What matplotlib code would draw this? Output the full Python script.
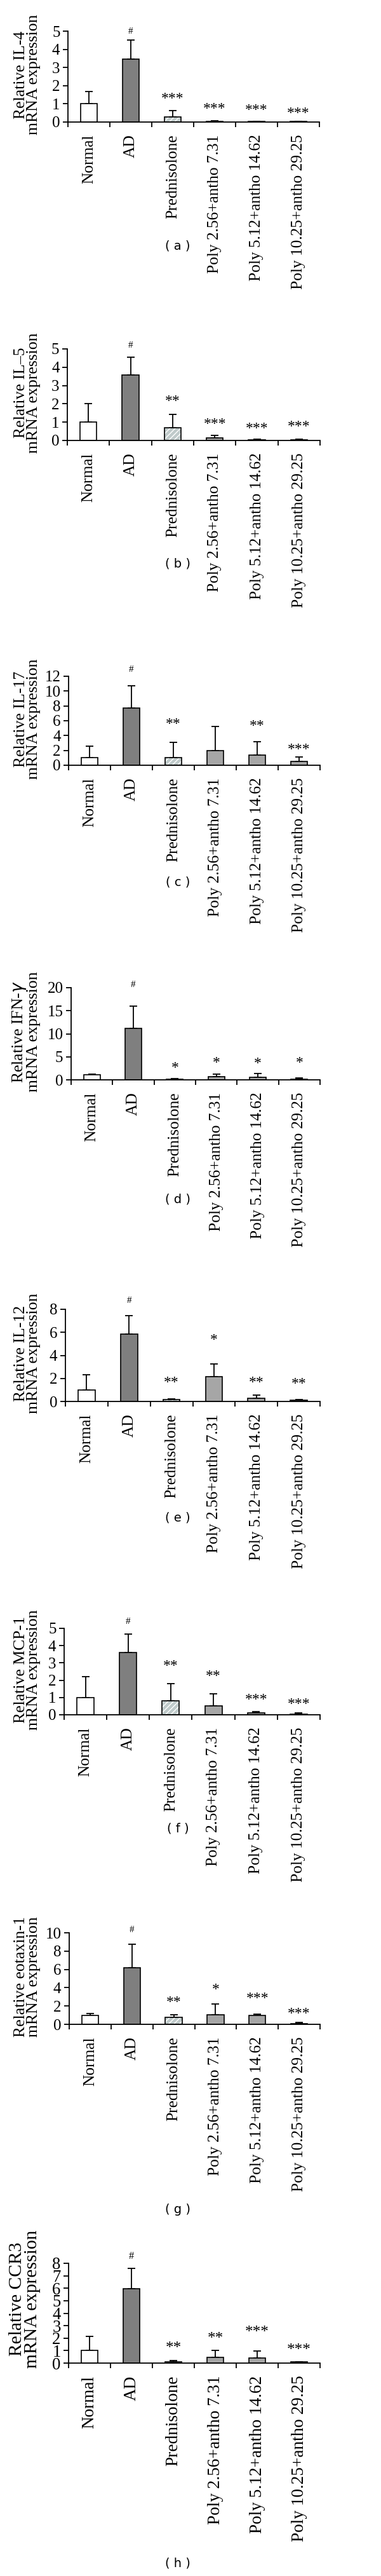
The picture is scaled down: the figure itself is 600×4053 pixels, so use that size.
import matplotlib
matplotlib.use("Agg")
import matplotlib.pyplot as plt
import numpy as np

groups = ["Normal", "AD", "Prednisolone", "Poly 2.56+antho 7.31",
          "Poly 5.12+antho 14.62", "Poly 10.25+antho 29.25"]

# (a) IL-4
il4_mean = [1.0, 3.45, 0.28, 0.05, 0.04, 0.04]
il4_err = [0.68, 1.05, 0.35, 0.03, 0.01, 0.01]
il4_marks = ["", "#", "***", "***", "***", "***"]
il4_mark_y = [0, 4.97, 1.29, 0.71, 0.65, 0.48]

# (b) IL-5
il5_mean = [1.0, 3.56, 0.71, 0.14, 0.05, 0.05]
il5_err = [1.0, 1.0, 0.70, 0.15, 0.03, 0.03]
il5_marks = ["", "#", "**", "***", "***", "***"]
il5_mark_y = [0, 5.2, 2.14, 0.87, 0.64, 0.75]

# (c) IL-17
il17_mean = [1.03, 7.69, 1.06, 1.97, 1.4, 0.54]
il17_err = [1.5, 3.0, 2.0, 3.3, 1.74, 0.57]
il17_marks = ["", "#", "**", "", "**", "***"]
il17_mark_y = [0, 12.9, 5.5, 0, 5.26, 2.06]

# (d) IFN-gamma
ifng_mean = [1.06, 11.2, 0.18, 0.74, 0.6, 0.18]
ifng_err = [0.23, 4.74, 0.1, 0.46, 0.74, 0.19]
ifng_marks = ["", "#", "*", "*", "*", "*"]
ifng_mark_y = [0, 20.6, 2.58, 3.7, 3.5, 3.6]

# (e) IL-12
il12_mean = [1.0, 5.84, 0.18, 2.16, 0.26, 0.09]
il12_err = [1.29, 1.59, 0.04, 1.07, 0.3, 0.08]
il12_marks = ["", "#", "**", "*", "**", "**"]
il12_mark_y = [0, 8.74, 1.64, 5.33, 1.64, 1.49]

# (f) MCP-1
mcp1_mean = [1.0, 3.59, 0.81, 0.53, 0.1, 0.05]
mcp1_err = [1.22, 1.07, 0.98, 0.7, 0.1, 0.05]
mcp1_marks = ["", "#", "**", "**", "***", "***"]
mcp1_mark_y = [0, 5.37, 2.8, 2.21, 0.88, 0.6]

# (g) eotaxin-1
eot_mean = [0.98, 6.16, 0.77, 1.02, 1.0, 0.09]
eot_err = [0.23, 2.56, 0.25, 1.17, 0.12, 0.12]
eot_marks = ["", "#", "**", "*", "***", "***"]
eot_mark_y = [0, 10.3, 2.42, 3.81, 2.84, 1.14]

# (h) CCR3
ccr3_mean = [1.02, 5.95, 0.08, 0.46, 0.41, 0.08]
ccr3_err = [1.1, 1.64, 0.1, 0.54, 0.56, 0.04]
ccr3_marks = ["", "#", "**", "**", "***", "***"]
ccr3_mark_y = [0, 8.54, 1.17, 1.93, 2.44, 1.0]

panels = [
  ("Relative IL-4\nmRNA expression", il4_mean, il4_err, il4_marks, il4_mark_y, np.arange(0, 6, 1), "a"),
  ("Relative IL\u20135\nmRNA expression", il5_mean, il5_err, il5_marks, il5_mark_y, np.arange(0, 6, 1), "b"),
  ("Relative IL-17\nmRNA expression", il17_mean, il17_err, il17_marks, il17_mark_y, np.arange(0, 13, 2), "c"),
  ("Relative IFN-$\\gamma$\nmRNA expression", ifng_mean, ifng_err, ifng_marks, ifng_mark_y, np.arange(0, 21, 5), "d"),
  ("Relative IL-12\nmRNA expression", il12_mean, il12_err, il12_marks, il12_mark_y, np.arange(0, 9, 2), "e"),
  ("Relative MCP-1\nmRNA expression", mcp1_mean, mcp1_err, mcp1_marks, mcp1_mark_y, np.arange(0, 6, 1), "f"),
  ("Relative eotaxin-1\nmRNA expression", eot_mean, eot_err, eot_marks, eot_mark_y, np.arange(0, 11, 2), "g"),
  ("Relative CCR3\nmRNA expression", ccr3_mean, ccr3_err, ccr3_marks, ccr3_mark_y, np.arange(0, 9, 1), "h"),
]

# pixel boxes (left, top, right, bottom) and caption y for each panel
W, H = 600, 4053
frames = [
  (107, 49, 503, 192, 387),
  (106, 549, 504, 693, 887),
  (108, 1064, 504, 1204, 1388),
  (112, 1554, 504, 1699, 1887),
  (103, 2060, 504, 2205, 2388),
  (101, 2562, 504, 2698, 2877),
  (109, 3041, 504, 3185, 3477),
  (108, 3561, 504, 3718, 4033),
]
font_scale = [1, 1, 1, 1, 1, 1, 1, 1.07]
ylabel_scale = [1, 1, 1, 1, 1, 1, 1, 1.15]
label_y = [0.52, 0.52, 0.52, 0.52, 0.52, 0.52, 0.52, 0.64]

bar_colors = ["white", "#7f7f7f", "#bfcaca", "#a6a6a6", "#a6a6a6", "#a6a6a6"]
serif = "Liberation Serif"
plt.rcParams["font.family"] = serif

fig = plt.figure(figsize=(W / 100, H / 100), dpi=100)

for (ylabel, mean, err, marks, mark_y, ticks, tag), frame, fs, ls, ly in zip(
    panels, frames, font_scale, ylabel_scale, label_y):
  left, top, right, bottom, cap_y = frame
  ax = fig.add_axes([left / W, 1 - bottom / H, (right - left) / W, (bottom - top) / H])
  x = np.arange(len(groups))
  mean = np.array(mean)
  err = np.array(err)

  ax.errorbar(x, mean, yerr=[np.zeros_like(err), err], fmt="none", ecolor="black",
              elinewidth=1.3, capsize=4.5, capthick=1.3, zorder=1)
  for i in range(len(groups)):
    if i == 2:
      ax.bar(x[i], mean[i], width=0.4, color=bar_colors[i], edgecolor="white",
             hatch="////", linewidth=0, zorder=2)
      ax.bar(x[i], mean[i], width=0.4, fill=False, edgecolor="black", linewidth=1.2, zorder=3)
    else:
      ax.bar(x[i], mean[i], width=0.4, color=bar_colors[i], edgecolor="black",
             linewidth=1.2, zorder=2)

  for i, m in enumerate(marks):
    if not m:
      continue
    size = 11 if m == "#" else 17
    ax.text(x[i], mark_y[i], m, ha="center", va="center", fontsize=size * fs)

  ax.set_xlim(-0.5, len(groups) - 0.5)
  ax.set_ylim(0, ticks[-1])
  ax.set_yticks(ticks)
  ax.set_yticklabels([str(t) for t in ticks])
  ax.set_xticks(x)
  ax.set_xticklabels(groups, rotation=90, va="top", ha="center")
  ax.set_xticks(np.arange(-0.5, len(groups), 1), minor=True)
  ax.tick_params(axis="x", which="major", length=0, pad=14, labelsize=18.3 * fs)
  ax.tick_params(axis="x", which="minor", length=6, width=1.3, direction="out")
  ax.tick_params(axis="y", length=6, width=1.3, direction="out", pad=3, labelsize=18 * fs)

  for side in ("top", "right"):
    ax.spines[side].set_visible(False)
  for side in ("left", "bottom"):
    ax.spines[side].set_linewidth(1.3)

  ax.set_ylabel(ylabel, fontsize=18.5 * ls, linespacing=0.9)
  ax.yaxis.set_label_coords(-(left - 64) / (right - left), ly)

  fig.text(280 / W, 1 - cap_y / H, "( %s )" % tag, ha="center", va="center",
           fontsize=14, family="DejaVu Sans")

fig.savefig("out.png", dpi=100, facecolor="white")
